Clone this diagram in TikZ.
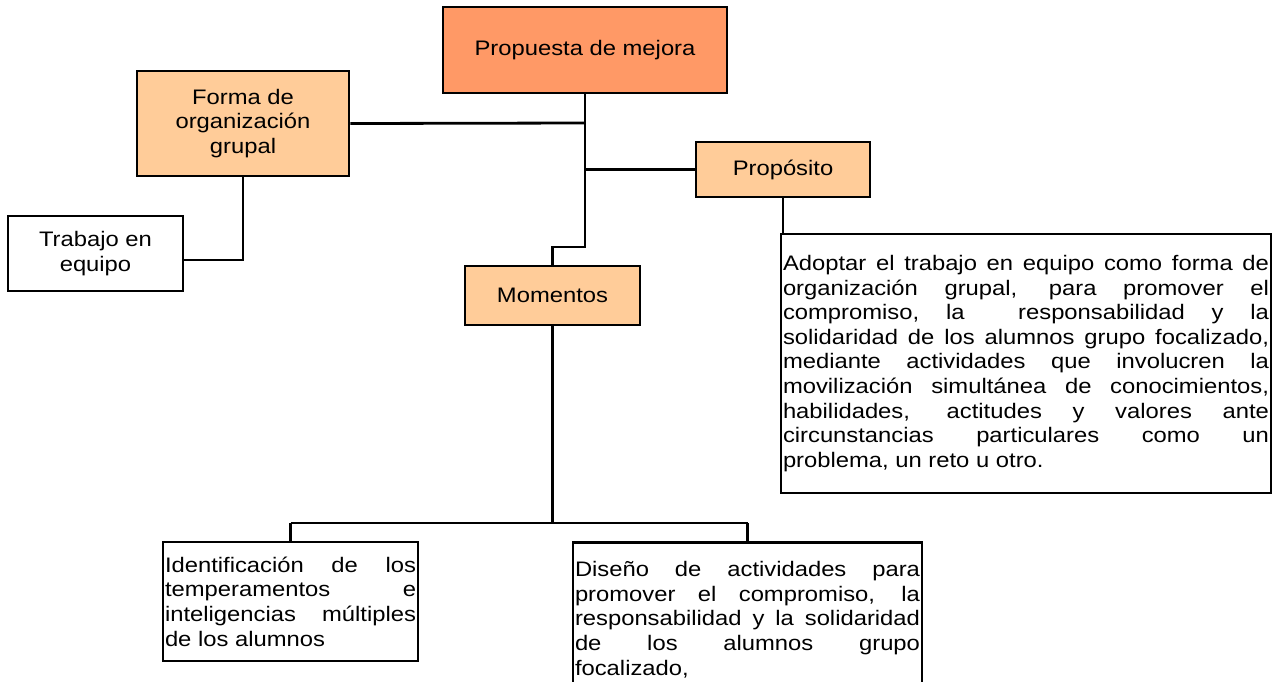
\documentclass[tikz,border=0pt]{standalone}
\usepackage{fontspec}
\setmainfont{Liberation Sans}[FakeStretch=1.133]
\definecolor{salmon}{HTML}{FF9966}
\definecolor{peach}{HTML}{FFCC99}
\newcommand{\fs}{\fontsize{21}{24.6}\selectfont}
\newcommand{\jl}[1]{\hbox to\linewidth{#1}}
\begin{document}
\begin{tikzpicture}[x=1pt,y=1pt,
  box/.style={draw=black, line width=2.9pt, inner sep=0pt, align=center, font=\fs},
  jbox/.style={draw=black, line width=2.9pt, inner xsep=2pt, inner ysep=0pt, fill=white},
  conn/.style={line width=2.8pt, line join=miter}]
\useasboundingbox (0,0) rectangle (1282,-681);
\clip (0,0) rectangle (1282,-681);
\fill[white] (0,0) rectangle (1282,-681);

\node[box, fill=salmon, minimum width=284, minimum height=86] (top) at (585,-50) {Propuesta de mejora};
\node[box, fill=peach, minimum width=212, minimum height=105] (forma) at (243,-123.5) {Forma de\\organización\\grupal};
\node[box, fill=white, minimum width=175, minimum height=75] (trab) at (95.5,-253.5) {Trabajo en\\equipo};
\node[box, fill=peach, minimum width=174, minimum height=55] (prop) at (783,-169.5) {Propósito};
\node[box, fill=peach, minimum width=175, minimum height=59] (mom) at (552.5,-295.5) {Momentos};

\node[jbox, minimum width=490, minimum height=259] (tbox) at (1026,-363.5) {\begin{minipage}{486pt}\fs
\jl{Adoptar el trabajo en equipo como forma de}
\jl{organización grupal, para promover el}
\jl{compromiso,\hfill la\hfill\hfill responsabilidad\hfill y\hfill la}
\jl{solidaridad de los alumnos grupo focalizado,}
\jl{mediante actividades que involucren la}
\jl{movilización simultánea de conocimientos,}
\jl{habilidades, actitudes y valores ante}
\jl{circunstancias particulares como un}
\hbox{problema, un reto u otro.}
\end{minipage}};

\node[jbox, minimum width=255, minimum height=119] (ident) at (290.5,-601.5) {\begin{minipage}{251pt}\fs
\jl{Identificación de los}
\jl{temperamentos e}
\jl{inteligencias múltiples}
\hbox{de los alumnos}
\end{minipage}};

\node[jbox, anchor=north, minimum width=349, inner ysep=19pt] (dis) at (747.5,-541) {\begin{minipage}{345pt}\fs
\jl{Diseño de actividades para}
\jl{promover el compromiso, la}
\jl{responsabilidad y la solidaridad}
\jl{de los alumnos grupo}
\hbox{focalizado,}
\end{minipage}};

\coordinate (j1) at (585,-123);
\coordinate (j2) at (585,-169.5);
\coordinate (j3) at (585,-247);
\coordinate (j4) at (552.5,-247);
\coordinate (b0) at (552.5,-523);
\coordinate (bl) at (290.5,-523);
\coordinate (br) at (747.5,-523);
\coordinate (tl) at (243,-260);

\draw[conn] (top.south) -- (j3) -- (j4) -- (mom.north);
\draw[conn] (forma.east) -- (j1);
\draw[conn] (j2) -- (prop.west);
\draw[conn] (forma.south) -- (tl) -- (trab.east |- tl);
\draw[conn] (prop.south) -- (prop.south |- tbox.north);
\draw[conn] (mom.south) -- (b0);
\draw[conn] (bl) -- (br);
\draw[conn] (bl) -- (ident.north);
\draw[conn] (br) -- (dis.north);
\end{tikzpicture}
\end{document}
